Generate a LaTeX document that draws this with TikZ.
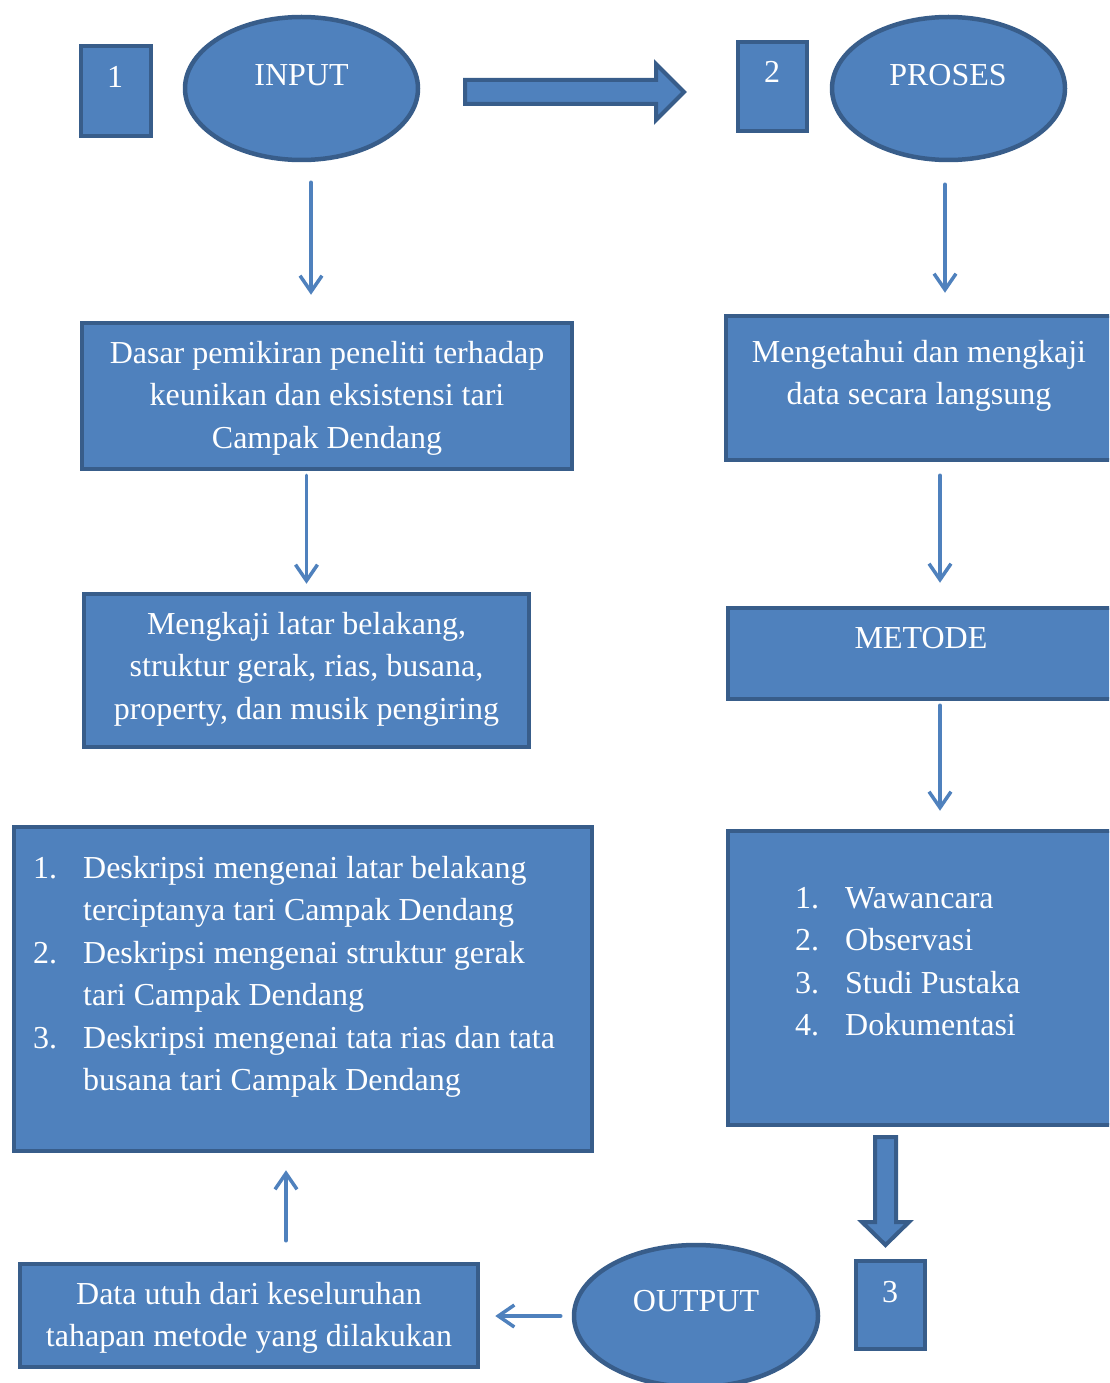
\documentclass[tikz,border=0pt]{standalone}
\usepackage{fontspec}
\setmainfont{Liberation Serif}
\usetikzlibrary{shapes.geometric,arrows.meta}
\definecolor{boxfill}{HTML}{4F81BD}
\definecolor{boxline}{HTML}{385D8A}
\newcommand{\boxlines}[1]{\begin{tabular}[t]{@{}c@{}}#1\end{tabular}}
\newcommand{\numlist}[1]{\begin{tabular}[t]{@{}p{50pt}@{}l@{}}#1\end{tabular}}

\begin{document}
\begin{tikzpicture}[x=1pt,y=-1pt]
\tikzstyle{box}=[draw=boxline,fill=boxfill,line width=4.5pt,rectangle,inner sep=0pt]
\tikzstyle{oval}=[box,ellipse]
\tikzstyle{txt}=[text=white,font=\fontsize{32}{42.5}\selectfont,inner sep=0pt,anchor=base]
\tikzstyle{arr}=[draw=boxfill,line width=3.5pt,line cap=round,-{Straight Barb[length=16pt,width=22pt]}]
\tikzstyle{fat}=[draw=boxline,fill=boxfill,line width=4pt,line join=miter]

\useasboundingbox (0,0) rectangle (1109,1383);
\clip (0,0) rectangle (1109,1383);

% top row
\node[box,minimum width=70pt,minimum height=90pt] (no1) at (116,91) {};
\node[txt] (no1-t) at (115,88) {1};
\node[oval,minimum width=233pt,minimum height=143pt] (input) at (301.5,88.5) {};
\node[txt] (input-t) at (301.5,86) {INPUT};
\draw[fat] (465,80) -- (656,80) -- (656,64) -- (684,92) -- (656,120) -- (656,104) -- (465,104) -- cycle;
\node[box,minimum width=69pt,minimum height=89pt] (no2) at (772.5,86.5) {};
\node[txt] (no2-t) at (772,83) {2};
\node[oval,minimum width=233pt,minimum height=143pt] (proses) at (948.5,88.5) {};
\node[txt] (proses-t) at (948,86) {PROSES};

% left column
\node[box,minimum width=490pt,minimum height=146pt] (dasar) at (327,396) {};
\node[txt] (dasar-t) at (327,363) {\boxlines{Dasar pemikiran peneliti terhadap\\keunikan dan eksistensi tari\\Campak Dendang}};
\node[box,minimum width=445pt,minimum height=153pt] (kaji) at (306.5,670.5) {};
\node[txt] (kaji-t) at (306.5,634) {\boxlines{Mengkaji latar belakang,\\struktur gerak, rias, busana,\\property, dan musik pengiring}};
\node[box,minimum width=578pt,minimum height=324pt] (hasil) at (303,989) {};
\node[txt,anchor=base west] (hasil-t) at (33,878) {\numlist{1.&Deskripsi mengenai latar belakang\\&terciptanya tari Campak Dendang\\2.&Deskripsi mengenai struktur gerak\\&tari Campak Dendang\\3.&Deskripsi mengenai tata rias dan tata\\&busana tari Campak Dendang}};
\node[box,minimum width=458pt,minimum height=103pt] (data) at (249,1315.5) {};
\node[txt] (data-t) at (249,1304) {\boxlines{Data utuh dari keseluruhan\\tahapan metode yang dilakukan}};

% right column
\node[box,minimum width=388pt,minimum height=144pt] (tahu) at (920,388) {};
\node[txt] (tahu-t) at (919,362) {\boxlines{Mengetahui dan mengkaji\\data secara langsung}};
\node[box,minimum width=386pt,minimum height=91pt] (metode) at (921,653.5) {};
\node[txt] (metode-t) at (921,648) {METODE};
\node[box,minimum width=386pt,minimum height=294pt] (teknik) at (921,978) {};
\node[txt,anchor=base west] (teknik-t) at (795,908) {\numlist{1.&Wawancara\\2.&Observasi\\3.&Studi Pustaka\\4.&Dokumentasi}};
\draw[fat] (875,1137) -- (896,1137) -- (896,1222) -- (909,1222) -- (885.5,1245) -- (862,1222) -- (875,1222) -- cycle;
\node[box,minimum width=69pt,minimum height=88pt] (no3) at (890.5,1305) {};
\node[txt] (no3-t) at (890,1302) {3};
\node[oval,minimum width=244pt,minimum height=142pt] (output) at (696,1316) {};
\node[txt] (output-t) at (696,1311) {OUTPUT};

% connectors
\draw[arr,shorten <=20pt,shorten >=26pt] ([xshift=9.5pt]input.south) -- ([xshift=9.5pt]input.south |- dasar.north);
\draw[arr,shorten <=4pt,shorten >=8pt] (dasar.south -| kaji.north) -- (kaji.north);
\draw[arr,shorten <=22pt,shorten >=21pt] ([xshift=-3.5pt]proses.south) -- ([xshift=-3.5pt]proses.south |- tahu.north);
\draw[arr,shorten <=13pt,shorten >=23pt] ([xshift=20pt]tahu.south) -- ([xshift=20pt]tahu.south |- metode.north);
\draw[arr,shorten <=4pt,shorten >=18pt] ([xshift=19pt]metode.south) -- ([xshift=19pt]metode.south |- teknik.north);
\draw[arr,shorten <=11pt,shorten >=15pt] (output.west) -- (output.west -| data.east);
\draw[arr,shorten <=21pt,shorten >=17pt] ([xshift=37pt]data.north) -- ([xshift=37pt]data.north |- hasil.south);
\end{tikzpicture}
\end{document}
